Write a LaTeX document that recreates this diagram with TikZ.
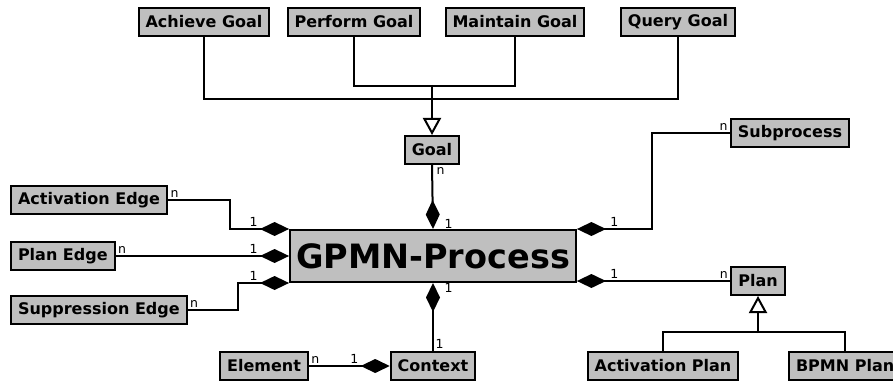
\documentclass[tikz,border=0pt]{standalone}
\usepackage{fontspec}
\setmainfont{DejaVu Sans}
\usetikzlibrary{arrows.meta}

\begin{document}
\begin{tikzpicture}
  [x=1pt,y=-1pt,line width=2pt,
   cls/.style={draw,fill=black!25,font=\bfseries\fontsize{16}{18}\selectfont,inner xsep=7pt,minimum height=28pt},
   mult/.style={font=\fontsize{12.5}{13}\selectfont,inner sep=1.5pt},
   comp/.style={-{Diamond[length=29pt,width=14pt]}},
   gen/.style={-{Triangle[open,fill=white,length=17pt,width=18pt]}}]
  \useasboundingbox (0,0) rectangle (893,382);

  \node[cls] (achieve) at (204,22) {Achieve Goal};
  \node[cls] (perform) at (354,22) {Perform Goal};
  \node[cls] (maintain) at (515,22) {Maintain Goal};
  \node[cls] (query) at (678,22) {Query Goal};
  \node[cls] (goal) at (432,150) {Goal};
  \node[cls] (subp) at (790,133) {Subprocess};
  \node[cls,font=\bfseries\fontsize{33.5}{36}\selectfont,inner xsep=6pt,minimum height=52pt] (gpmn) at (433,256) {GPMN-Process};
  \node[cls,anchor=west] (actedge) at (10,200) {Activation Edge};
  \node[cls,anchor=west] (planedge) at (10,256) {Plan Edge};
  \node[cls,anchor=west] (supedge) at (10,310) {Suppression Edge};
  \node[cls] (element) at (264,366) {Element};
  \node[cls] (context) at (433,366) {Context};
  \node[cls] (plan) at (758,281) {Plan};
  \node[cls] (actplan) at (663,366) {Activation Plan};
  \node[cls,anchor=west] (bpmnplan) at (788,366) {BPMN Plan};

  % goal hierarchy
  \coordinate (goalbus) at (432,85);
  \coordinate (planbus) at (758,333);
  \draw (achieve.south) -- ++(0,62) -| (query.south);
  \draw (perform.south) -- ++(0,49) -| (maintain.south);
  \draw[gen] (goalbus) -- (goal.north);
  \draw (actplan.north) -- ++(0,-19) -| (bpmnplan.north);
  \draw[gen] (planbus) -- (plan.south);

  % compositions
  \draw[comp] (goal.south) -- node[mult,at start,below right,xshift=2pt]{n}
    node[mult,at end,above right,xshift=9pt,yshift=-2pt]{1} (gpmn.north);
  \draw[comp] (subp.west) -- node[mult,at start,above left]{n} ++(-78,0)
    |- node[mult,at end,anchor=south west,xshift=31pt]{1} (gpmn.north east);
  \draw[comp] (actedge.east) -- node[mult,at start,above right]{n} ++(62,0)
    |- node[mult,at end,anchor=south east,xshift=-29pt]{1} (gpmn.north west);
  \draw[comp] (planedge.east) -- node[mult,at start,above right]{n}
    node[mult,at end,anchor=south east,xshift=-29pt]{1} (planedge.east -| gpmn.west);
  \draw[comp] (supedge.east) -- node[mult,at start,above right]{n} ++(50,0)
    |- node[mult,at end,anchor=south east,xshift=-29pt]{1} (gpmn.south west);
  \draw[comp] (plan.west) -- node[mult,at start,above left]{n}
    node[mult,at end,anchor=south west,xshift=31pt]{1} (plan.west -| gpmn.east);
  \draw[comp] (context.north) -- node[mult,at start,above right]{1}
    node[mult,at end,below right,xshift=9pt,yshift=2pt]{1} (gpmn.south);
  \draw[comp] (element.east) -- node[mult,at start,above right]{n}
    node[mult,at end,anchor=south east,xshift=-29pt]{1} (context.west);
\end{tikzpicture}
\end{document}
